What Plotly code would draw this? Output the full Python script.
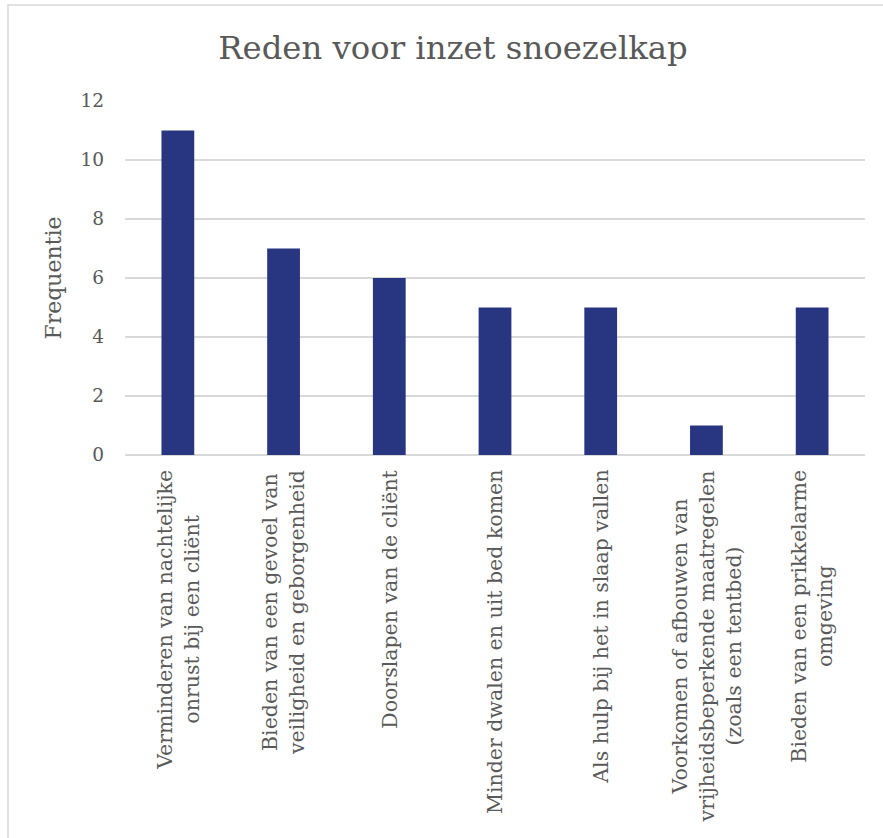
import plotly.graph_objects as go

categories = [
    "Verminderen van nachtelijke<br>onrust bij een cliënt",
    "Bieden van een gevoel van<br>veiligheid en geborgenheid",
    "Doorslapen van de cliënt",
    "Minder dwalen en uit bed komen",
    "Als hulp bij het in slaap vallen",
    "Voorkomen of afbouwen van<br>vrijheidsbeperkende maatregelen<br>(zoals een tentbed)",
    "Bieden van een prikkelarme<br>omgeving",
]
values = [11, 7, 6, 5, 5, 1, 5]
y_ticks = [0, 2, 4, 6, 8, 10, 12]

FONT = "DejaVu Serif"
GRAY = "#595959"
BAR = "#283580"

W, H = 883, 838
L, R, T, B = 125, 18, 101, 383
pw, ph = W - L - R, H - T - B

def px_x(px):
    return (px - L) / pw

def px_y(py):
    return (H - B - py) / ph

fig = go.Figure(
    go.Bar(x=list(range(len(categories))), y=values, marker_color=BAR, width=0.31,
           marker_line_width=0)
)

annotations = []
for i, c in enumerate(categories):
    annotations.append(dict(
        x=i, y=px_y(468), xref="x", yref="paper", text=c, showarrow=False,
        textangle=-90, xanchor="center", yanchor="top", align="center",
        font=dict(family=FONT, size=20.5, color=GRAY),
    ))

fig.update_layout(
    width=W, height=H,
    margin=dict(l=L, r=R, t=T, b=B),
    paper_bgcolor="white", plot_bgcolor="white",
    title=dict(text="Reden voor inzet snoezelkap", x=453 / W, xanchor="center",
               y=1 - 48 / H, yanchor="middle",
               font=dict(family=FONT, size=32.3, color=GRAY)),
    xaxis=dict(range=[-0.5, len(categories) - 0.5], showticklabels=False, showgrid=False,
               zeroline=False, showline=False, ticks=""),
    yaxis=dict(range=[0, 12], tickvals=y_ticks, showgrid=True, gridcolor="#d9d9d9", gridwidth=1.5,
               zeroline=True, zerolinecolor="#d9d9d9", zerolinewidth=1.5, showline=False,
               ticks="", ticklabelstandoff=20,
               tickfont=dict(family=FONT, size=18.5, color=GRAY),
               title=dict(text="Frequentie", font=dict(family=FONT, size=22, color=GRAY), standoff=12)),
    annotations=annotations,
    shapes=[dict(type="rect", xref="paper", yref="paper",
                 x0=px_x(8), x1=px_x(900), y0=px_y(850), y1=px_y(5),
                 line=dict(color="#d9d9d9", width=1.5), fillcolor="rgba(0,0,0,0)", layer="below")],
    showlegend=False,
)

fig.write_html("out.html")
